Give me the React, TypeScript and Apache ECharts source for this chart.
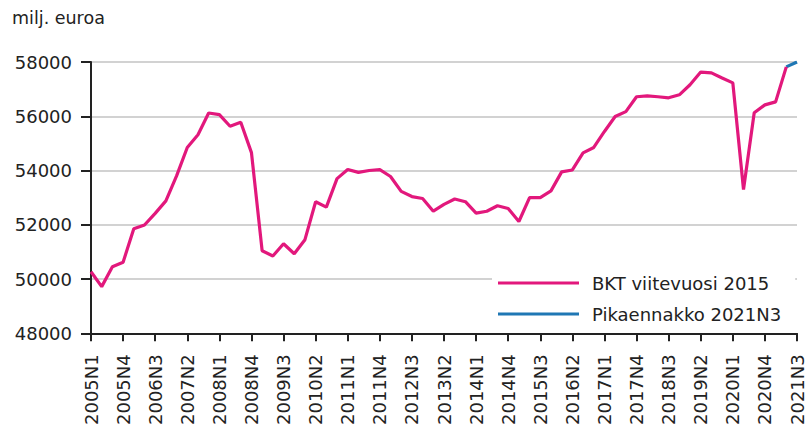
import React, { useEffect, useRef } from "react";
import * as echarts from "echarts";

const years = Array.from({ length: 17 }, (_, i) => 2005 + i);
const categories: string[] = [];
years.forEach((y) => {
  for (let q = 1; q <= 4; q++) {
    if (y === 2021 && q > 3) break;
    categories.push(`${y}N${q}`);
  }
});

const bktValues: (number | null)[] = [
  50270, 49720, 50450, 50620, 51850, 51990, 52420, 52880,
  53800, 54850, 55320, 56120, 56060, 55630, 55780, 54660,
  51040, 50850, 51300, 50930, 51450, 52850, 52650, 53700,
  54040, 53930, 54000, 54030, 53780, 53230, 53040, 52970,
  52500, 52750, 52950, 52850, 52430, 52500, 52700, 52600,
  52120, 53000, 53000, 53250, 53950, 54020, 54650, 54850,
  55440, 55990, 56170, 56720, 56750, 56720, 56680, 56790,
  57160, 57630, 57600, 57410, 57230, 53300, 56130, 56420,
  56530, 57820, null,
];

const flashValues: (number | null)[] = categories.map((_, i) =>
  i === 65 ? 57820 : i === 66 ? 58000 : null
);

const seriesNames = ["BKT viitevuosi 2015", "Pikaennakko 2021N3"];
const unitLabel = "milj. euroa";

const FONT = "DejaVu Sans";
const PINK = "#e2187c";
const BLUE = "#1f77b4";

export default function App() {
  const ref = useRef<HTMLDivElement>(null);
  useEffect(() => {
    if (!ref.current) return;
    const chart = echarts.init(ref.current, null, { renderer: "svg" });
    chart.setOption({
      animation: false,
      backgroundColor: "#ffffff",
      textStyle: { fontFamily: FONT },
      grid: { left: 91, right: 11, top: 62, bottom: 93, containLabel: false },
      graphic: [
        {
          type: "text",
          left: 12,
          top: 9,
          style: { text: unitLabel, fontFamily: FONT, fontSize: 17.5, fill: "#222" },
        },
      ],
      legend: {
        orient: "vertical",
        left: 492,
        top: 267,
        padding: [6, 14, 6, 6],
        backgroundColor: "#ffffff",
        icon: "rect",
        itemWidth: 81,
        itemHeight: 3,
        itemGap: 11,
        textStyle: {
          fontFamily: FONT,
          fontSize: 18,
          color: "#222",
          lineHeight: 20,
          padding: [0, 0, 0, 8],
        },
        data: seriesNames,
      },
      xAxis: {
        type: "category",
        data: categories,
        boundaryGap: false,
        axisLine: { show: true, lineStyle: { color: "#222", width: 2 } },
        axisTick: {
          show: true,
          interval: 2,
          length: 8,
          lineStyle: { color: "#222", width: 2 },
        },
        axisLabel: {
          interval: 2,
          rotate: 90,
          margin: 21,
          fontFamily: FONT,
          fontSize: 18,
          color: "#222",
        },
        splitLine: { show: false },
      },
      yAxis: {
        type: "value",
        min: 48000,
        max: 58000,
        interval: 2000,
        axisLine: { show: true, lineStyle: { color: "#222", width: 2 } },
        axisTick: { show: true, length: 10, lineStyle: { color: "#222", width: 2 } },
        axisLabel: {
          margin: 19,
          fontFamily: FONT,
          fontSize: 18,
          color: "#222",
          formatter: (v: number) => String(v),
        },
        splitLine: { show: true, lineStyle: { color: "#d2d2d2", width: 2 } },
      },
      series: [
        {
          name: seriesNames[0],
          type: "line",
          data: bktValues,
          symbol: "none",
          lineStyle: { color: PINK, width: 3.2 },
          itemStyle: { color: PINK },
          z: 3,
        },
        {
          name: seriesNames[1],
          type: "line",
          data: flashValues,
          symbol: "none",
          lineStyle: { color: BLUE, width: 3.2 },
          itemStyle: { color: BLUE },
          z: 2,
        },
      ],
    });
    return () => chart.dispose();
  }, []);
  return (
    <div
      ref={ref}
      style={{ position: "fixed", left: 0, top: 0, width: 808, height: 428 }}
    />
  );
}
